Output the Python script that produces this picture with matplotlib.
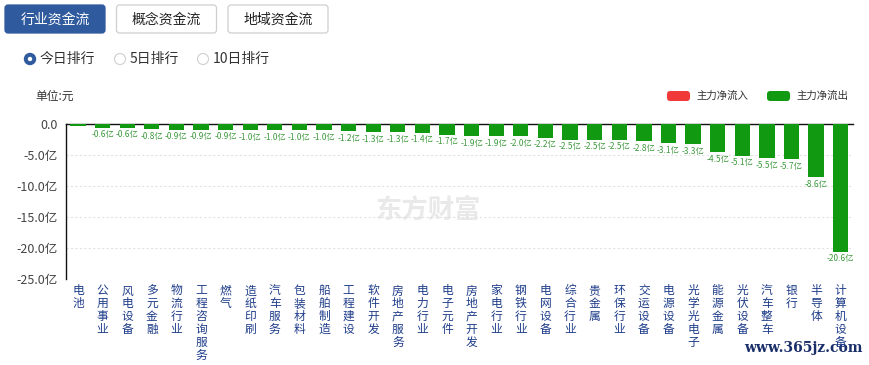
import matplotlib
matplotlib.use('Agg')
from matplotlib import pyplot as plt
from matplotlib.patches import FancyBboxPatch, Circle
import matplotlib.transforms as mtransforms

plt.rcParams['font.family'] = ['Noto Sans CJK SC', 'DejaVu Sans']

# 数据
industries = ['电池', '公用事业', '风电设备', '多元金融', '物流行业', '工程咨询服务', '燃气',
              '造纸印刷', '汽车服务', '包装材料', '船舶制造', '工程建设', '软件开发', '房地产服务',
              '电力行业', '电子元件', '房地产开发', '家电行业', '钢铁行业', '电网设备', '综合行业',
              '贵金属', '环保行业', '交运设备', '电源设备', '光学光电子', '能源金属', '光伏设备',
              '汽车整车', '银行', '半导体', '计算机设备']
net_flow = [-0.4, -0.6, -0.6, -0.8, -0.9, -0.9, -0.9, -1.0, -1.0, -1.0, -1.0, -1.2, -1.3, -1.3,
            -1.4, -1.7, -1.9, -1.9, -2.0, -2.2, -2.5, -2.5, -2.5, -2.8, -3.1, -3.3, -4.5, -5.1,
            -5.5, -5.7, -8.6, -20.6]
yticks = [0, -5, -10, -15, -20, -25]
ytick_labels = ['0.0', '-5.0亿', '-10.0亿', '-15.0亿', '-20.0亿', '-25.0亿']
tabs = ['行业资金流', '概念资金流', '地域资金流']
radios = ['今日排行', '5日排行', '10日排行']

W, H = 870, 365
fig = plt.figure(figsize=(W / 100, H / 100), dpi=100)

# 背景层（像素坐标）
bg = fig.add_axes([0, 0, 1, 1], zorder=0)
bg.set_xlim(0, W)
bg.set_ylim(H, 0)
bg.axis('off')

# 顶部按钮
for i, t in enumerate(tabs):
    x0 = 5 + i * 111.5
    active = i == 0
    bg.add_patch(FancyBboxPatch((x0, 5), 100, 28, boxstyle='round,pad=0,rounding_size=3',
                                facecolor='#2f5a9e' if active else 'white',
                                edgecolor='#2f5a9e' if active else '#cfcfcf', lw=0.9))
    bg.text(x0 + 50, 19.5, t, ha='center', va='center', fontsize=10,
            color='white' if active else '#222222')

# 单选按钮
radio_x = [30, 120, 203]
for i, (rx, t) in enumerate(zip(radio_x, radios)):
    if i == 0:
        bg.add_patch(Circle((rx, 59), 5.5, facecolor='#2f5a9e', edgecolor='#2f5a9e'))
        bg.add_patch(Circle((rx, 59), 2.2, facecolor='white', edgecolor='none'))
    else:
        bg.add_patch(Circle((rx, 59), 5.5, facecolor='white', edgecolor='#d0d0d0', lw=0.8))
    bg.text(rx + 10, 59, t, ha='left', va='center', fontsize=10, color='#333333')

bg.text(35, 96, '单位:元', ha='left', va='center', fontsize=8.5, color='#333333')

# 图例
for lx, c, t in [(667, '#f03a3a', '主力净流入'), (767, '#119a11', '主力净流出')]:
    bg.add_patch(FancyBboxPatch((lx, 91), 23, 10, boxstyle='round,pad=0,rounding_size=3',
                                facecolor=c, edgecolor='none'))
    bg.text(lx + 29, 96, t, ha='left', va='center', fontsize=7.5, color='#333333')

# 水印
bg.text(428, 210, '东方财富', ha='center', va='center', fontsize=19, fontweight='bold',
        color='#e9e9e9')
bg.text(803, 348, 'www.365jz.com', ha='center', va='center', fontsize=10, fontweight='bold',
        family='DejaVu Serif', color='#1a2f6a', zorder=5)

# 主图
ax = fig.add_axes([65.7 / W, 1 - 279 / H, (853 - 65.7) / W, 155 / H], zorder=1)
ax.patch.set_alpha(0)
x = list(range(len(industries)))
ax.bar(x, net_flow, width=0.62, color='#119a11', zorder=3)
ax.set_xlim(-0.5, len(industries) - 0.5)
ax.set_ylim(-25, 0)
ax.set_yticks(yticks)
ax.set_yticklabels(ytick_labels)
ax.set_xticks([])
ax.tick_params(axis='y', length=0, labelsize=9, labelcolor='#444444', pad=6)
for s in ['right', 'bottom']:
    ax.spines[s].set_visible(False)
ax.spines['left'].set_color('#111111')
ax.spines['top'].set_color('#111111')
ax.spines['left'].set_linewidth(1)
ax.spines['top'].set_linewidth(1)
ax.grid(axis='y', linestyle=(0, (2, 2)), color='#e2e2e2', linewidth=0.8)
ax.set_axisbelow(True)

# 数值标签
for i, v in enumerate(net_flow):
    if i == 0:
        continue
    ax.annotate(f'{v:.1f}亿', (i, v), xytext=(0, -2), textcoords='offset points',
                ha='center', va='top', fontsize=6, color='#3d9a3d')

# 竖排行业名
trans = mtransforms.blended_transform_factory(ax.transData, ax.transAxes)
for i, name in enumerate(industries):
    ax.text(i, -0.035, '\n'.join(name), transform=trans, ha='center', va='top',
            fontsize=8.5, color='#1f3d8a', linespacing=0.98)

plt.savefig('out.png', dpi=100)
